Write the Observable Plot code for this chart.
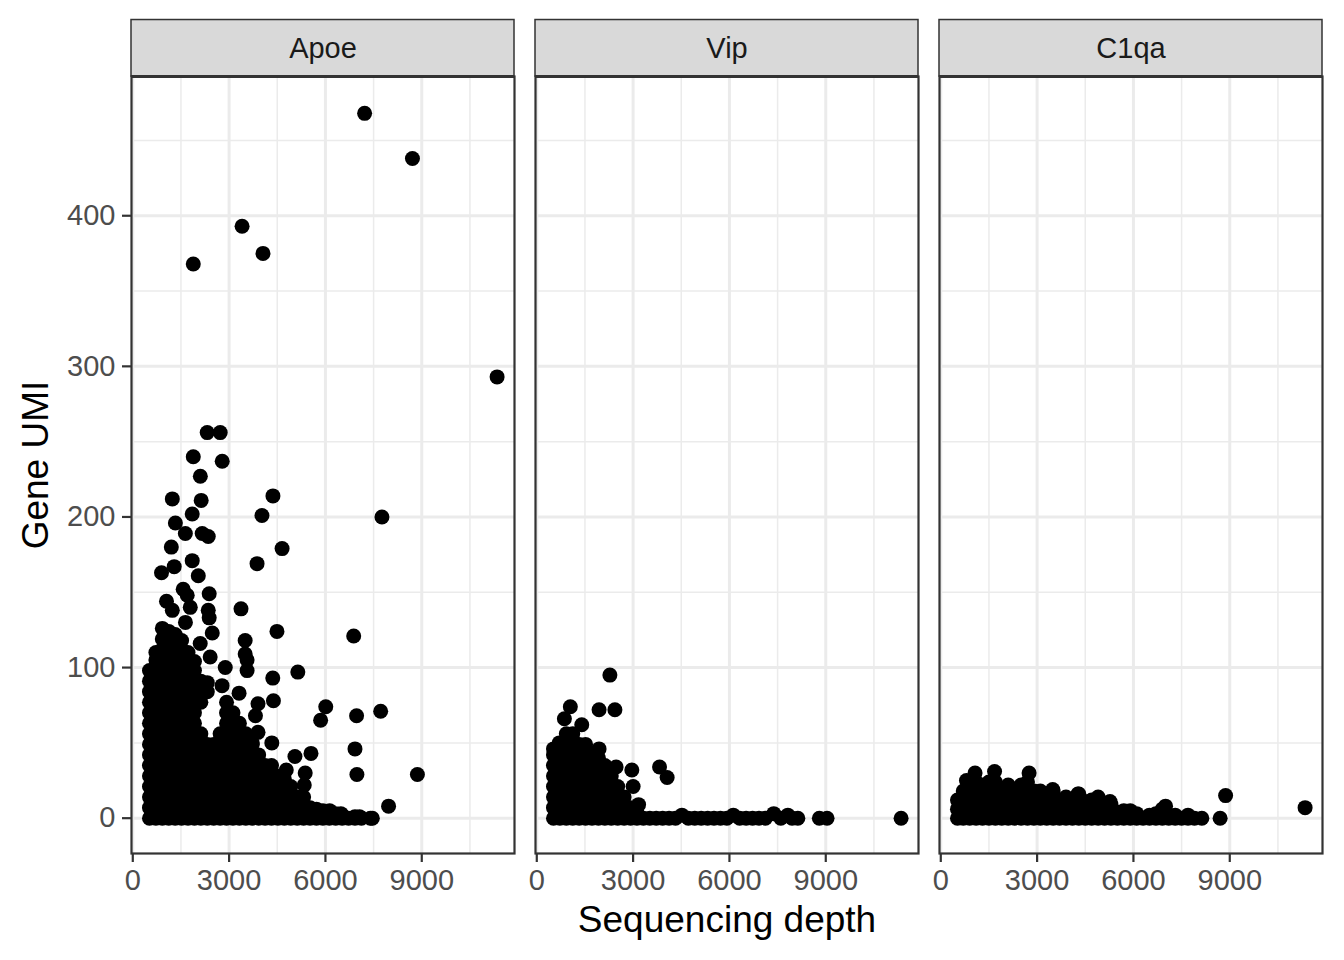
<!DOCTYPE html>
<html><head><meta charset="utf-8">
<script src="https://cdn.jsdelivr.net/npm/d3@7"></script>
<script src="https://cdn.jsdelivr.net/npm/@observablehq/plot@0.6"></script>
<style>body{margin:0;background:#fff} #chart{width:1344px;height:960px}</style>
</head><body><div id="chart"></div>
<script>
const genes = ["Apoe", "Vip", "C1qa"];
const xTicks = [0, 3000, 6000, 9000];
const xMinor = [1500, 4500, 7500, 10500];
const yTicks = [0, 100, 200, 300, 400];
const yMinor = [50, 150, 250, 350, 450];
const xTitle = "Sequencing depth";
const yTitle = "Gene UMI";

// Apoe: isolated points [depth, umi]
const apoeOutliers = [
  [7220,468],[8710,438],[3404,393],[4055,375],[1884,368],[11346,293],
  [2318,256],[2723,256],[1884,240],[2785,237],[2104,227],[1231,212],[2130,211],[4365,214],
  [1851,202],[4023,201],[7760,200],[1327,196],[1637,189],[2350,187],[2162,189],[1200,180],
  [4650,179],[1851,171],[3870,169],[1290,167],[895,163],[2040,161],[1570,152],[1695,148],
  [2380,149],[1050,144],[1231,138],[1790,140],[2350,138],[3370,139],[1640,130],[2380,133],
  [2475,123],[4490,124],[920,126],[6880,121],[2100,116],[3500,118],[3500,109],[2410,107],
  [3560,105],[3560,98],[2880,100],[5140,97],[4360,93],[2780,88],[1850,98],[3310,83],
  [3900,76],[4380,78],[6010,74],[5850,65],[6970,68],[7720,71],[3820,68],[3900,57],
  [4330,50],[3720,50],[5550,43],[5050,41],[6920,46],[6980,29],[8864,29],[5370,30],
  [5340,22],[4780,32],[4560,17],[7966,8],[6130,5],[6480,3],[7060,1],[7400,0],[7460,0]
];
// Apoe: dense mass, [depth, list of umi]
const apoeDense = [
  [520,[0,7,14,21,28,35,42,49,56,63,70,77,84,91,98]],
  [720,[0,7,14,21,28,35,42,49,56,63,70,77,84,91,98,105,110]],
  [920,[0,7,14,21,28,35,42,49,56,63,70,77,84,91,98,105,112,119]],
  [1120,[0,7,14,21,28,35,42,49,56,63,70,77,84,91,98,105,112,119,124]],
  [1320,[0,7,14,21,28,35,42,49,56,63,70,77,84,91,98,105,112,119,122]],
  [1520,[0,7,14,21,28,35,42,49,56,63,70,77,84,91,98,105,112,118]],
  [1720,[0,7,14,21,28,35,42,49,56,63,70,77,84,91,98,105,110]],
  [1920,[0,7,14,21,28,35,42,49,56,63,70,77,84,91,98,104]],
  [2120,[0,7,14,21,28,35,42,49,56,77,84,91]],
  [2320,[0,7,14,21,28,35,42,49,84,90]],
  [2520,[0,7,14,21,28,35,42,49]],
  [2720,[0,7,14,21,28,35,42,49,56]],
  [2920,[0,7,14,21,28,35,42,49,56,63,70,77]],
  [3120,[0,7,14,21,28,35,42,49,56,63,70]],
  [3320,[0,7,14,21,28,35,42,49,56,63]],
  [3520,[0,7,14,21,28,35,42,49,56]],
  [3720,[0,7,14,21,28,35,42,49]],
  [3920,[0,7,14,21,28,35,42]],
  [4120,[0,7,14,21,28,35]],
  [4320,[0,7,14,21,28,35]],
  [4520,[0,7,14,21,28]],
  [4720,[0,7,14,21,26]],
  [4920,[0,7,14,21]],
  [5120,[0,7,14]],
  [5320,[0,7,14]],
  [5520,[0,7]],
  [5720,[0,6]],
  [5920,[0,5]],
  [6120,[0,4]],
  [6320,[0,3]],
  [6520,[0,2]],
  [6720,[0]],
  [6920,[0,1]],
  [7120,[0]]
];

const vipOutliers = [
  [2277,95],[1045,74],[1940,72],[2433,72],[860,66],[1400,62],[700,50],[1940,46],
  [2470,34],[2960,32],[3823,34],[4060,27],[3000,21],[3170,9],
  [4520,2],[6120,2],[7380,3],[7820,2],[8130,0],[8800,0],[9040,0],[11346,0]
];
const vipDense = [
  [520,[0,7,14,21,28,35,42,46]],
  [720,[0,7,14,21,28,35,42,49]],
  [920,[0,7,14,21,28,35,42,49,56]],
  [1120,[0,7,14,21,28,35,42,49,56]],
  [1320,[0,7,14,21,28,35,42,49]],
  [1520,[0,7,14,21,28,35,42,49]],
  [1720,[0,7,14,21,28,35,42]],
  [1920,[0,7,14,21,28,35,40]],
  [2120,[0,7,14,21,28,35]],
  [2320,[0,7,14,21,28]],
  [2520,[0,7,14,21]],
  [2720,[0,7,14]],
  [2920,[0,7]],
  [3120,[0,4]],
  [3320,[0]],[3520,[0]],[3720,[0]],[3920,[0]],[4120,[0]],[4320,[0]],[4720,[0]],
  [4920,[0]],[5120,[0]],[5320,[0]],[5520,[0]],[5720,[0]],[5920,[0]],[6320,[0]],
  [6520,[0]],[6720,[0]],[6920,[0]],[7120,[0]],[7600,[0]],[7950,[0]]
];

const c1qaOutliers = [
  [1067,30],[1675,31],[2750,30],[800,25],[3485,19],[4270,16],[4900,14],[5270,11],
  [7000,8],[8130,0],[8700,0],[8870,15],[11346,7]
];
const c1qaDense = [
  [520,[0,6,12]],
  [700,[0,6,12,18]],
  [900,[0,6,12,18,22]],
  [1100,[0,6,12,18,24]],
  [1300,[0,6,12,18,22]],
  [1500,[0,6,12,18,24]],
  [1700,[0,6,12,18,24]],
  [1900,[0,6,12,18]],
  [2100,[0,6,12,18,22]],
  [2300,[0,6,12,18]],
  [2500,[0,6,12,18,22]],
  [2700,[0,6,12,18,24]],
  [2900,[0,6,12,18]],
  [3100,[0,6,12,18]],
  [3300,[0,6,12,16]],
  [3500,[0,6,12,18]],
  [3700,[0,6,12]],
  [3900,[0,6,12,14]],
  [4100,[0,6,12]],
  [4300,[0,6,12,16]],
  [4500,[0,6,11]],
  [4700,[0,6,12]],
  [4900,[0,6,12]],
  [5100,[0,6,10]],
  [5300,[0,5,9]],
  [5500,[0,4]],
  [5700,[0,5]],
  [5900,[0,5]],
  [6100,[0,3]],
  [6300,[0]],
  [6500,[0,2]],
  [6700,[0,3]],
  [6900,[0,6]],
  [7100,[0]],
  [7300,[0,2]],
  [7500,[0]],
  [7700,[0,2]],
  [7900,[0]]
];

function rows(gene, dense, outliers) {
  const out = [];
  for (const [depth, umis] of dense) for (const umi of umis) out.push({gene, depth, umi});
  for (const [depth, umi] of outliers) out.push({gene, depth, umi});
  return out;
}
const data = [
  ...rows("Apoe", apoeDense, apoeOutliers),
  ...rows("Vip", vipDense, vipOutliers),
  ...rows("C1qa", c1qaDense, c1qaOutliers)
];

const xDomain = [-40, 11888];
const yDomain = [-23.45, 492.45];
const stripSpan = 37.5; // strip height in y units above the panel
const font = "'Liberation Sans', Arial, Helvetica, sans-serif";

const chart = Plot.plot({
  width: 1344,
  height: 960,
  marginLeft: 130,
  marginRight: 21,
  marginTop: 76,
  marginBottom: 107,
  style: {fontFamily: font, background: "#ffffff", overflow: "visible"},
  fx: {domain: genes, paddingInner: 0.0519, paddingOuter: 0, axis: null, label: null},
  x: {domain: xDomain},
  y: {domain: yDomain},
  marks: [
    Plot.gridX(xMinor, {stroke: "#ebebeb", strokeOpacity: 1, strokeWidth: 1.5}),
    Plot.gridY(yMinor, {stroke: "#ebebeb", strokeOpacity: 1, strokeWidth: 1.5}),
    Plot.gridX(xTicks, {stroke: "#ebebeb", strokeOpacity: 1, strokeWidth: 3}),
    Plot.gridY(yTicks, {stroke: "#ebebeb", strokeOpacity: 1, strokeWidth: 3}),
    Plot.dot(data, {x: "depth", y: "umi", fx: "gene", r: 7.5, fill: "#000000", stroke: null}),
    Plot.frame({stroke: "#333333", strokeWidth: 2.2}),
    Plot.rect(genes, {
      fx: d => d,
      x1: () => xDomain[0], x2: () => xDomain[1],
      y1: () => yDomain[1], y2: () => yDomain[1] + stripSpan,
      fill: "#d9d9d9", stroke: "#333333", strokeWidth: 1.5
    }),
    Plot.ruleY(genes, {fx: d => d, y: () => yDomain[1], stroke: "#333333", strokeWidth: 3}),
    Plot.text(genes, {
      fx: d => d,
      x: () => (xDomain[0] + xDomain[1]) / 2,
      y: () => yDomain[1] + stripSpan / 2,
      text: d => d, fontSize: 29, fill: "#1a1a1a"
    }),
    Plot.axisX(xTicks, {tickSize: 9, tickPadding: 7, fontSize: 29, stroke: "#333333", fill: "#4d4d4d", strokeWidth: 2.2, label: null, tickFormat: d => String(d)}),
    Plot.axisY(yTicks, {tickSize: 9, tickPadding: 7, fontSize: 29, stroke: "#333333", fill: "#4d4d4d", strokeWidth: 2.2, label: null, tickFormat: d => String(d)}),
    Plot.text([xTitle], {fx: () => "Vip", frameAnchor: "bottom", dy: 67, text: d => d, fontSize: 37, fill: "#000000", textAnchor: "middle", lineAnchor: "middle"}),
    Plot.text([yTitle], {fx: () => "Apoe", frameAnchor: "left", dx: -95, rotate: -90, text: d => d, fontSize: 37, fill: "#000000", textAnchor: "middle", lineAnchor: "middle"})
  ]
});
document.getElementById("chart").appendChild(chart);
</script>
</body></html>
